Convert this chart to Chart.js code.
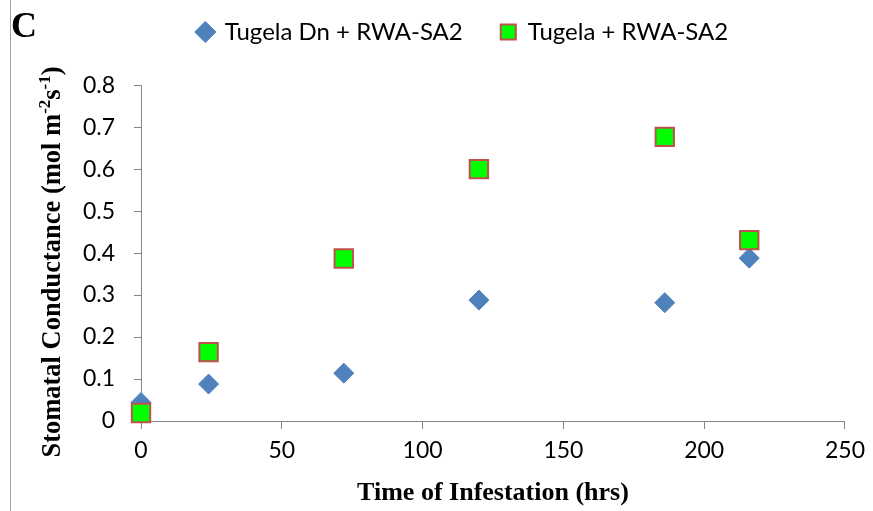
<!DOCTYPE html>
<html>
<head>
<meta charset="utf-8">
<script src="https://cdn.jsdelivr.net/npm/chart.js@4/dist/chart.umd.min.js"></script>
<style>
html, body { margin: 0; padding: 0; background: #fff; }
#wrap { width: 873px; height: 511px; position: relative; }
</style>
</head>
<body>
<div id="wrap"><canvas id="chart" width="873" height="511"></canvas></div>
<script>
// values
const hours = [0, 24, 72, 120, 186, 216];
const tugelaDn = [0.044, 0.088, 0.114, 0.288, 0.282, 0.388];
const tugela = [0.019, 0.164, 0.387, 0.600, 0.677, 0.431];
const xMax = 250;
const yMax = 0.8;

const panelLetter = "C";
const xTitle = "Time of Infestation (hrs)";
const yTitleParts = [["Stomatal Conductance (mol m", false], ["-2", true], ["s", false], ["-1", true], [")", false]];

const axisGrey = "#868686";
const tickFont = { family: "Lato", size: 23 };
const serifBold = '"Liberation Serif", "Times New Roman", serif';

const extras = {
    id: "extras",
    afterDraw(chart) {
        const ctx = chart.ctx;
        ctx.save();
        // thin frame line on the left
        ctx.strokeStyle = "#a0a0a0";
        ctx.lineWidth = 1;
        ctx.beginPath();
        ctx.moveTo(10.5, 0);
        ctx.lineTo(10.5, 511);
        ctx.stroke();

        // panel letter
        ctx.fillStyle = "#000";
        ctx.font = "bold 36px " + serifBold;
        ctx.textBaseline = "alphabetic";
        ctx.fillText(panelLetter, 11, 37);

        // y title with superscripts
        const big = "bold 26.5px " + serifBold;
        const small = "bold 17px " + serifBold;
        let total = 0;
        yTitleParts.forEach(p => {
            ctx.font = p[1] ? small : big;
            total += ctx.measureText(p[0]).width;
        });
        ctx.translate(51, 262);
        ctx.rotate(-Math.PI / 2);
        let x = -total / 2;
        yTitleParts.forEach(p => {
            ctx.font = p[1] ? small : big;
            ctx.fillText(p[0], x, p[1] ? -1 : 9);
            x += ctx.measureText(p[0]).width;
        });
        ctx.restore();
    }
};

new Chart(document.getElementById("chart"), {
    type: "scatter",
    data: {
        datasets: [{
            label: "Tugela Dn + RWA-SA2",
            data: hours.map((h, i) => ({ x: h, y: tugelaDn[i] })),
            pointStyle: "rectRot",
            pointRadius: 10,
            pointHoverRadius: 10,
            backgroundColor: "#4f81bd",
            borderColor: "#4f81bd",
            borderWidth: 1,
            clip: false,
            order: 1
        },
        {
            label: "Tugela + RWA-SA2",
            data: hours.map((h, i) => ({ x: h, y: tugela[i] })),
            pointStyle: "rect",
            pointRadius: 13,
            pointHoverRadius: 13,
            backgroundColor: "#00ff00",
            borderColor: "#c0504d",
            borderWidth: 2,
            clip: false,
            order: 0
        }]
    },
    options: {
        responsive: false,
        animation: false,
        events: [],
        layout: { padding: { left: 80, right: 27, top: -18, bottom: 0 } },
        plugins: {
            tooltip: { enabled: false },
            legend: {
                position: "top",
                labels: {
                    usePointStyle: true,
                    boxWidth: 15,
                    boxHeight: 15,
                    padding: 38,
                    color: "#000",
                    font: { family: "Lato", size: 24 },
                    sort: (a, b) => a.datasetIndex - b.datasetIndex
                }
            },
            // empty spacer under the legend
            subtitle: {
                display: true,
                text: "",
                weight: 500,
                padding: 0,
                font: { size: 26 }
            }
        },
        scales: {
            x: {
                type: "linear",
                min: 0,
                max: xMax,
                afterFit: s => { s.height = 90; },
                ticks: { stepSize: 50, color: "#000", font: tickFont, padding: 8 },
                grid: { drawOnChartArea: false, tickLength: 8, color: axisGrey },
                border: { color: axisGrey },
                title: {
                    display: true,
                    text: xTitle,
                    color: "#000",
                    font: { family: "Liberation Serif", size: 26, weight: "bold" },
                    padding: { top: 0, bottom: 2 }
                }
            },
            y: {
                min: 0,
                max: yMax,
                afterFit: s => { s.width = 61; },
                ticks: {
                    stepSize: 0.1,
                    color: "#000",
                    font: tickFont,
                    padding: 19,
                    callback: v => String(Math.round(v * 10) / 10)
                },
                grid: { drawOnChartArea: false, tickLength: 7, color: axisGrey },
                border: { color: axisGrey }
            }
        }
    },
    plugins: [extras]
});
</script>
</body>
</html>
